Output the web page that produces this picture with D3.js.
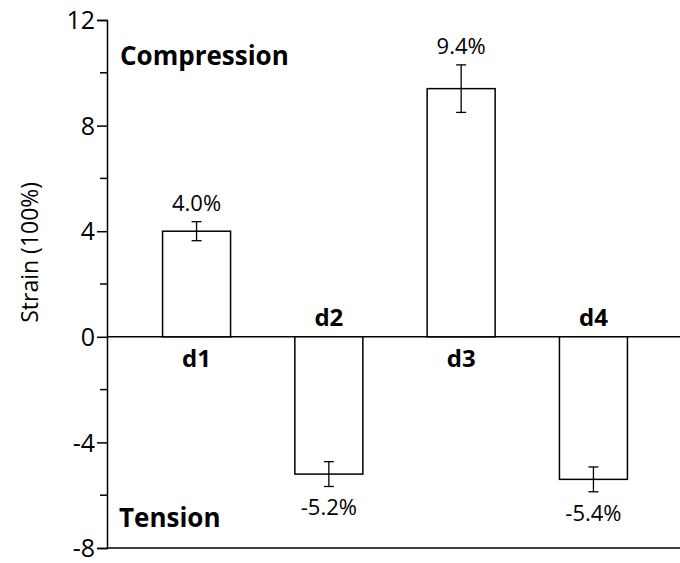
<!DOCTYPE html>
<html>
<head>
<meta charset="utf-8">
<script src="https://cdn.jsdelivr.net/npm/d3@7"></script>
<style>
  body { margin: 0; background: #fff; }
  text { font-family: "Open Sans", "DejaVu Sans", sans-serif; fill: #000; }
</style>
</head>
<body>
<div id="chart"></div>
<script>
const categories = ['d1', 'd2', 'd3', 'd4'];
const strainValues = [4.0, -5.2, 9.4, -5.4];
const strainErrors = [0.36, 0.47, 0.9, 0.47];
const valueLabels = ['4.0%', '-5.2%', '9.4%', '-5.4%'];
const majorTicks = [-8, -4, 0, 4, 8, 12];
const minorTicks = [-6, -2, 2, 6, 10];

const width = 680;
const height = 563;
const axisX = 107;

const svg = d3.select('#chart').append('svg')
  .attr('width', width)
  .attr('height', height);

const y = d3.scaleLinear().domain([-8, 12]).range([548, 20]);
const x = d3.scaleBand()
  .domain(categories)
  .range([axisX, 683])
  .paddingInner(0.486)
  .paddingOuter(0.42);

const bars = categories.map((c, i) => ({
  name: c,
  value: strainValues[i],
  err: strainErrors[i],
  label: valueLabels[i]
}));

// y axis, plain hyphen for negatives like the original
const yAxis = d3.axisLeft(y).tickValues(majorTicks).tickSize(10).tickPadding(2)
  .tickFormat(d => String(d));
const gy = svg.append('g').attr('transform', `translate(${axisX},0)`).call(yAxis);
gy.select('.domain').attr('stroke', '#000').attr('stroke-width', 1.5);
gy.selectAll('.tick line').attr('stroke', '#000').attr('stroke-width', 1.5);
gy.selectAll('.tick text')
  .attr('fill', '#000')
  .style('font-size', '25px')
  .attr('dy', '0.35em');

// minor ticks
svg.append('g').selectAll('line').data(minorTicks).join('line')
  .attr('x1', axisX - 7).attr('x2', axisX)
  .attr('y1', d => y(d)).attr('y2', d => y(d))
  .attr('stroke', '#000').attr('stroke-width', 1.5);

// zero line and bottom line
[0, -8].forEach((v) => {
  svg.append('line')
    .attr('x1', axisX).attr('x2', width)
    .attr('y1', y(v)).attr('y2', y(v))
    .attr('stroke', '#000').attr('stroke-width', 1.5);
});

// bars
svg.append('g').selectAll('rect').data(bars).join('rect')
  .attr('x', d => x(d.name))
  .attr('width', x.bandwidth())
  .attr('y', d => y(Math.max(0, d.value)))
  .attr('height', d => Math.abs(y(d.value) - y(0)))
  .attr('fill', '#fff')
  .attr('stroke', '#000')
  .attr('stroke-width', 1.5);

// error bars
const capW = 5;
const eb = svg.append('g').selectAll('g').data(bars).join('g')
  .attr('transform', d => `translate(${x(d.name) + x.bandwidth() / 2},0)`);
eb.append('line')
  .attr('y1', d => y(d.value - d.err)).attr('y2', d => y(d.value + d.err))
  .attr('stroke', '#000').attr('stroke-width', 1.3);
eb.append('line')
  .attr('x1', -capW).attr('x2', capW)
  .attr('y1', d => y(d.value + d.err)).attr('y2', d => y(d.value + d.err))
  .attr('stroke', '#000').attr('stroke-width', 1.3);
eb.append('line')
  .attr('x1', -capW).attr('x2', capW)
  .attr('y1', d => y(d.value - d.err)).attr('y2', d => y(d.value - d.err))
  .attr('stroke', '#000').attr('stroke-width', 1.3);

// value labels
eb.append('text')
  .attr('text-anchor', 'middle')
  .attr('y', d => d.value > 0 ? y(d.value + d.err) - 11 : y(d.value - d.err) + 29)
  .style('font-size', '22px')
  .text(d => d.label);

// category labels
eb.append('text')
  .attr('text-anchor', 'middle')
  .attr('y', d => d.value > 0 ? y(0) + 30 : y(0) - 11)
  .style('font-size', '24px')
  .style('font-weight', 'bold')
  .text(d => d.name);

// region labels
svg.append('text')
  .attr('x', 120).attr('y', 65)
  .style('font-size', '26px').style('font-weight', 'bold')
  .text('Compression');
svg.append('text')
  .attr('x', 119).attr('y', 527)
  .style('font-size', '26px').style('font-weight', 'bold')
  .text('Tension');

// y axis title
svg.append('text')
  .attr('transform', `translate(38,${y(3.2)}) rotate(-90)`)
  .attr('text-anchor', 'middle')
  .style('font-size', '23px')
  .text('Strain (100%)');
</script>
</body>
</html>
